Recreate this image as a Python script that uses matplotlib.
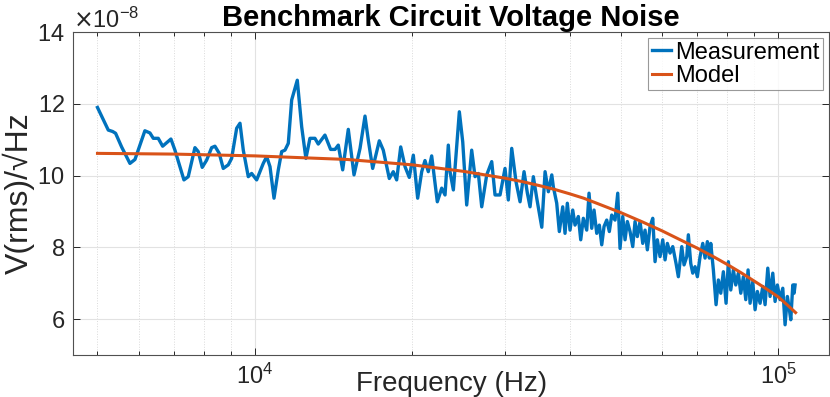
import numpy as np
import matplotlib
matplotlib.use("Agg")
import matplotlib.pyplot as plt
from matplotlib.ticker import NullFormatter

plt.rcParams['font.family'] = ['Liberation Sans', 'DejaVu Sans']

meas_freq = [
  5000, 5243, 5345, 5415, 5560, 5768, 5897, 6160, 6298, 6392, 6533, 6661,
  6908, 7031, 7315, 7455, 7678, 7790, 7928, 8083, 8264, 8385, 8545,
  8697, 8892, 9024, 9226, 9362, 9499, 9710, 9855, 10075, 10372, 10529,
  10684, 10874, 11082, 11248, 11413, 11580, 11754, 12047, 12283, 12513,
  12738, 13020, 13213, 13607, 13951, 14223, 14430,
  14712, 15080, 15464, 15879, 16231, 16468, 16788, 17285, 17590, 18063,
  18382, 18659, 18993, 19357, 19724, 20078, 20465, 20832, 21135, 21445,
  21767, 22313, 22750, 23084, 23420,
  23597, 23946, 24585, 24955, 25394, 25958, 26343, 26730, 27130, 27733,
  28351, 28767, 29408, 30060, 30500, 30960, 31550, 32116, 32685, 33168,
  33560, 34050, 34565, 35338, 35855, 36380, 36930,
  37180, 37741, 38175, 38751, 39146, 39544, 40017, 40495, 40907, 41506,
  41947, 42430, 43070, 43508, 44029, 44477, 45009, 45527, 46010, 46479,
  47035, 47576, 48082, 48786, 49369, 49871, 50468, 50981, 51500, 52116,
  52739, 53276, 53818, 54462, 55113, 55674, 56241, 56914, 57594, 58180,
  58772, 59475, 60186, 60799, 61418, 62152, 62895,
  63815, 64464, 65436, 66102, 66893, 67366, 68081, 68683, 69382, 70089,
  70927, 71776, 72505, 73244, 73891, 74349, 75204, 76104, 76879, 77695,
  78590, 79529, 80339, 81192, 82127, 82999, 83955, 84847, 85824, 86735,
  87618, 88393, 89450, 90360, 91280, 92372, 93476, 94427, 95557, 96529,
  97683, 98678, 99680, 100872, 102079, 103117, 104167, 105088, 105738,
  106673, 107285, 107759,
]
meas_v = [
  11.90, 11.27, 11.23, 11.18, 10.80, 10.34, 10.45, 11.25, 11.19, 11.04, 11.04, 10.82,
  11.02, 10.71, 9.88, 9.97, 10.78, 10.67, 10.23, 10.43, 10.78, 10.82, 10.62,
  10.20, 10.30, 10.48, 11.32, 11.46, 10.71, 9.97, 10.06, 9.88, 10.34, 10.53,
  10.25, 9.37, 10.16, 10.67, 10.71, 10.90, 12.11, 12.66, 11.36, 10.48,
  11.04, 11.04, 10.88, 11.13, 10.73, 10.73, 10.85,
  10.16, 11.29, 10.02, 10.76, 11.66, 10.99, 10.20, 10.97, 10.71, 9.92,
  10.11, 9.88, 10.80, 10.25, 9.95, 10.57, 9.37, 10.11, 10.42, 10.11,
  10.55, 9.27, 9.65, 9.46, 10.85,
  10.11, 9.60, 11.78, 10.94, 9.18, 10.71, 9.97, 10.06, 9.13, 10.02,
  10.39, 9.46, 9.46, 10.20, 9.32, 10.76, 9.83, 9.27, 10.11, 9.51,
  9.13, 9.97, 9.37, 8.56, 10.11, 9.55, 10.02,
  9.69, 9.23, 8.44, 9.13, 8.39, 9.23, 8.48, 9.04, 8.62, 8.86,
  8.21, 8.81, 8.48, 9.51, 8.53, 9.04, 8.39, 8.62, 8.07, 8.58,
  8.76, 8.44, 8.90, 8.76, 9.51, 7.97, 8.86, 8.21, 8.72, 8.44,
  8.02, 8.72, 8.30, 8.72, 8.11, 8.48, 7.93, 8.58, 8.81, 7.60,
  8.21, 7.74, 8.21, 7.65, 8.11, 7.84, 8.02,
  7.55, 7.18, 8.02, 7.51, 7.74, 8.35, 7.55, 7.28, 7.46, 7.18,
  7.74, 8.11, 7.70, 8.16, 7.70, 8.11, 7.37, 6.40, 7.09, 6.72,
  7.32, 6.44, 7.60, 6.81, 7.37, 6.95, 7.28, 6.72, 7.18, 6.54,
  7.37, 6.44, 7.04, 6.26, 6.77, 6.44, 6.91, 6.40, 7.42, 6.63,
  7.28, 6.49, 6.95, 6.54, 6.86, 5.84, 6.63, 6.26, 5.98,
  6.95, 6.72, 6.95,
]

# model curve
model_freq = [5000, 7000, 10000, 15000, 20000, 25000, 30000, 32500, 35000,
              37500, 40000, 42500, 45000, 50000, 55000, 60000, 65000, 70000,
              75000, 80000, 85000, 90000, 95000, 100000, 104000, 108000]
model_v = [10.62, 10.60, 10.55, 10.45, 10.30, 10.12, 9.93, 9.83, 9.72,
           9.61, 9.49, 9.37, 9.23, 8.97, 8.71, 8.46, 8.21, 7.98,
           7.75, 7.52, 7.29, 7.06, 6.84, 6.62, 6.40, 6.18]

y_ticks = [6, 8, 10, 12, 14]

BLUE = "#0072BD"
ORANGE = "#D95319"
AXCOL = "#262626"

fig = plt.figure(figsize=(8.3, 3.97), dpi=100)
ax = fig.add_axes([0.088, 0.106, 0.911, 0.813])

ax.plot(meas_freq, np.array(meas_v) * 1e-8, color=BLUE, lw=2.4, label="Measurement")
ax.plot(model_freq, np.array(model_v) * 1e-8, color=ORANGE, lw=2.2, label="Model")

ax.set_xscale("log")
ax.set_xlim(4490, 125200)
ax.set_ylim(5e-8, 14e-8)
ax.set_yticks(np.array(y_ticks) * 1e-8)
ax.ticklabel_format(axis="y", style="sci", scilimits=(-8, -8), useMathText=True)
ax.xaxis.set_minor_formatter(NullFormatter())

ax.grid(which="major", color="#e2e2e2", lw=0.8)
ax.grid(which="minor", axis="x", color="#dadada", lw=0.7, ls=":")
ax.set_axisbelow(True)

ax.tick_params(which="both", direction="in", top=True, right=True, color=AXCOL,
               labelcolor=AXCOL, labelsize=17, width=0.7)
ax.tick_params(which="major", length=5)
ax.tick_params(axis="y", pad=6)
ax.tick_params(axis="x", pad=6)
ax.tick_params(which="minor", length=3)
for s in ax.spines.values():
  s.set_color("#505050")
  s.set_linewidth(0.8)

ax.yaxis.get_offset_text().set_fontsize(17)
ax.yaxis.get_offset_text().set_color(AXCOL)

ax.set_xlabel("Frequency (Hz)", fontsize=20, color=AXCOL)
ax.xaxis.set_label_coords(0.5, -0.05)
ax.set_ylabel("V(rms)/\u221aHz", fontsize=23, color=AXCOL, labelpad=2)
ax.set_title("Benchmark Circuit Voltage Noise", fontsize=21, fontweight="bold", pad=3)

leg = ax.legend(loc="upper right", fontsize=17, handlelength=0.8, handletextpad=0.2,
                labelspacing=0.05, borderpad=0.15, borderaxespad=0.25, fancybox=False)
leg.get_frame().set_edgecolor("#808080")
leg.get_frame().set_linewidth(0.8)

fig.savefig("out.png", dpi=100)
